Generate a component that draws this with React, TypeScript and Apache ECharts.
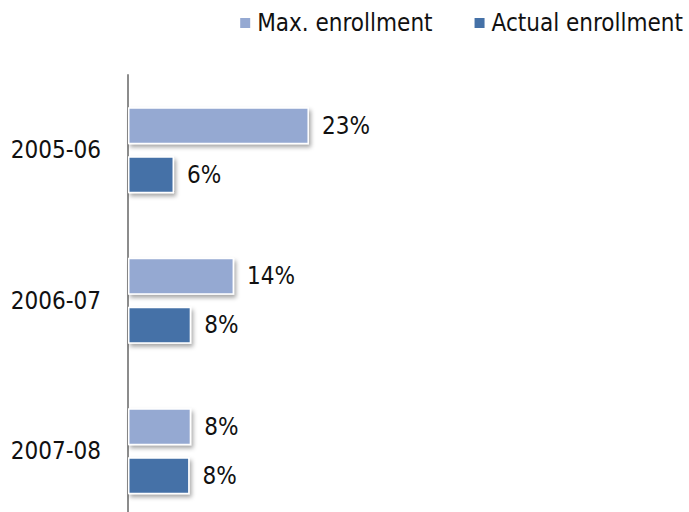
import React, { useEffect, useRef } from "react";
import * as echarts from "echarts";

const categories = ["2005-06", "2006-07", "2007-08"];
const seriesNames = ["Max. enrollment", "Actual enrollment"];
const maxEnrollment = [23.2, 13.6, 8.1];
const actualEnrollment = [5.9, 8.1, 7.9];
const colors = ["#95a9d2", "#4571a7"];

const FONT = "'DejaVu Sans Condensed', 'DejaVu Sans', sans-serif";

export default function App() {
  const ref = useRef<HTMLDivElement>(null);
  useEffect(() => {
    if (!ref.current) return;
    const chart = echarts.init(ref.current, undefined, { renderer: "svg" });
    const barStyle = (c: string) => ({
      color: c,
      borderColor: "#ffffff",
      borderWidth: 1.5,
      shadowColor: "rgba(0,0,0,0.35)",
      shadowBlur: 4,
      shadowOffsetX: 2,
      shadowOffsetY: 3,
    });
    const label = {
      show: true,
      position: "right" as const,
      distance: 13,
      fontFamily: FONT,
      fontSize: 24,
      color: "#111",
      formatter: (p: any) => Math.round(p.value) + "%",
    };
    chart.setOption({
      animation: false,
      backgroundColor: "#ffffff",
      textStyle: { fontFamily: FONT },
      legend: {
        data: seriesNames,
        right: 1,
        top: 6,
        itemWidth: 12,
        itemHeight: 12,
        itemGap: 40,
        icon: "rect",
        textStyle: { fontFamily: FONT, fontSize: 24, color: "#111", padding: [0, 0, 0, 1] },
      },
      grid: { left: 128, top: 75, width: 546, height: 451.5, containLabel: false },
      xAxis: {
        type: "value",
        min: 0,
        max: 70,
        show: false,
        splitLine: { show: false },
      },
      yAxis: {
        type: "category",
        data: categories,
        inverse: true,
        axisLine: { show: true, lineStyle: { color: "#8c8c8c", width: 2 } },
        axisTick: { show: false },
        axisLabel: { fontFamily: FONT, fontSize: 24, color: "#111", margin: 27 },
      },
      series: [
        {
          name: seriesNames[0],
          type: "bar",
          data: maxEnrollment,
          barWidth: 37,
          barGap: "33%",
          itemStyle: barStyle(colors[0]),
          label,
        },
        {
          name: seriesNames[1],
          type: "bar",
          data: actualEnrollment,
          barWidth: 37,
          barGap: "33%",
          itemStyle: barStyle(colors[1]),
          label,
        },
      ],
    });
    return () => chart.dispose();
  }, []);
  return (
    <div style={{ position: "absolute", left: 0, top: 0, width: 689, height: 512, overflow: "hidden" }}>
      <div ref={ref} style={{ width: 689, height: 527 }} />
    </div>
  );
}
